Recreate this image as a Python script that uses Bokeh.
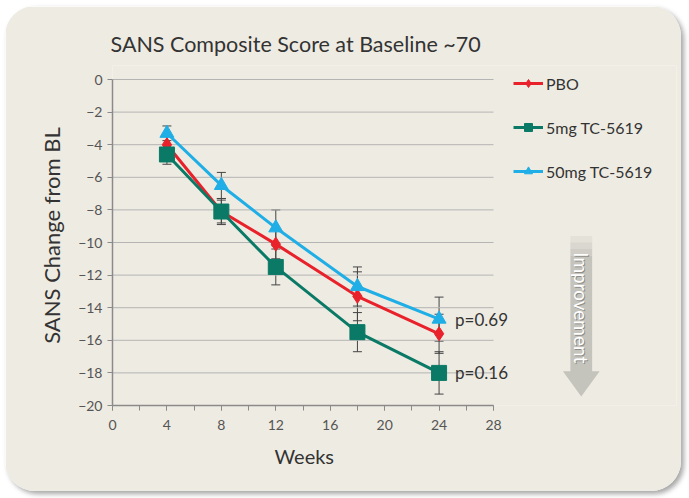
from bokeh.plotting import figure
from bokeh.models import (ColumnDataSource, Whisker, TeeHead, Legend, LegendItem,
                          Label, PolyAnnotation, FixedTicker, Range1d, Title)
from bokeh.embed import file_html
from bokeh.resources import INLINE

weeks = [4, 8, 12, 18, 24]
pbo = [-4.0, -8.1, -10.1, -13.3, -15.6]
mg5 = [-4.6, -8.1, -11.5, -15.5, -18.0]
mg50 = [-3.3, -6.5, -9.1, -12.7, -14.7]
pbo_se = [0.5, 0.7, 0.9, 1.5, 1.2]
mg5_se = [0.6, 0.8, 1.1, 1.2, 1.3]
mg50_se = [0.45, 0.8, 1.1, 1.2, 1.35]
names = ["PBO", "5mg TC-5619", "50mg TC-5619"]
colors = ["#E8212B", "#0A7A66", "#1FAEE5"]
pvals = ["p=0.69", "p=0.16"]
x_ticks = [0, 4, 8, 12, 16, 20, 24, 28]
y_ticks = list(range(-20, 1, 2))

FONT = "Lato"
BG = "#EEEBE2"

W, H = 676, 485
BL, BR, BT, BB = 107, 5, 59, 86
frame_w = W - BL - BR
frame_h = H - BT - BB
x_end = 28 * frame_w / 381.0       # axis 0..28 spans 381 px; rest holds legend/arrow
y_end = 20 * frame_h / 326.0 - 20  # axis -20..0 spans 326 px; a little room above

p = figure(width=W, height=H, output_backend="svg", toolbar_location=None,
           x_range=Range1d(0, x_end), y_range=Range1d(-20, y_end),
           min_border_left=BL, min_border_right=BR, min_border_top=BT, min_border_bottom=BB)
p.background_fill_color = BG
p.border_fill_color = BG
p.outline_line_color = None
p.styles = {"border-radius": "30px", "overflow": "hidden", "margin": "6px 0 0 5px",
            "box-shadow": "3px 3px 5px rgba(0,0,0,0.35)"}

p.title.text = "SANS Composite Score at Baseline ~70"
p.title.align = "left"
p.title.offset = -2
p.title.text_font = FONT
p.title.text_font_size = "21.5px"
p.title.text_font_style = "normal"
p.title.text_color = "#333333"
p.title.standoff = 18

p.xaxis.ticker = FixedTicker(ticks=x_ticks, minor_ticks=list(range(0, 29, 2)))
p.xaxis.bounds = (0, 28)
p.yaxis.ticker = FixedTicker(ticks=y_ticks)
p.yaxis.bounds = (-20, 0)
for ax in (p.xaxis[0], p.yaxis[0]):
    ax.axis_line_color = "#8A8A8A"
    ax.axis_line_width = 1.5
    ax.major_tick_line_color = "#8A8A8A"
    ax.minor_tick_line_color = "#8A8A8A"
    ax.major_tick_in = 0
    ax.major_tick_out = 5
    ax.minor_tick_in = 0
    ax.minor_tick_out = 5
    ax.major_label_text_font = FONT
    ax.major_label_text_font_size = "14px"
    ax.major_label_text_color = "#555555"
    ax.axis_label_text_font = FONT
    ax.axis_label_text_font_style = "normal"
    ax.axis_label_text_color = "#333333"
p.yaxis.minor_tick_line_color = None
p.yaxis.axis_label = "SANS Change from BL"
p.yaxis.axis_label_text_font_size = "22px"
p.yaxis.axis_label_standoff = 10
p.yaxis.major_label_standoff = 5
p.xaxis.major_label_standoff = 9

# x-axis label centred under the 0..28 axis (the frame extends further right)
p.add_layout(Title(text="Weeks", align="left", offset=162, standoff=18,
                   text_font=FONT, text_font_size="20px", text_font_style="normal",
                   text_color="#333333"), "below")

p.xgrid.grid_line_color = None
p.ygrid.grid_line_color = None
gsrc = ColumnDataSource(dict(x0=[0] * len(y_ticks), x1=[28] * len(y_ticks),
                             y=y_ticks))
p.segment(x0="x0", x1="x1", y0="y", y1="y", source=gsrc,
          line_color="#B4B4B4", line_width=1)

series = [pbo, mg5, mg50]
ses = [pbo_se, mg5_se, mg50_se]
markers = ["diamond", "square", "triangle"]
msizes = [14, 15, 14]
items = []
for vals, se in zip(series, ses):
    src = ColumnDataSource(dict(x=weeks, y=vals,
                                lo=[v - s for v, s in zip(vals, se)],
                                hi=[v + s for v, s in zip(vals, se)]))
    w = Whisker(source=src, base="x", upper="hi", lower="lo",
                line_color="#444444", line_width=1,
                upper_head=TeeHead(size=9, line_color="#444444", line_width=1),
                lower_head=TeeHead(size=9, line_color="#444444", line_width=1))
    p.add_layout(w)
for vals, col, mk, ms, nm in zip(series, colors, markers, msizes, names):
    src = ColumnDataSource(dict(x=weeks, y=vals))
    r1 = p.line("x", "y", source=src, line_color=col, line_width=3)
    r2 = p.scatter("x", "y", source=src, marker=mk, size=ms, fill_color=col,
                   line_color=col)
    items.append(LegendItem(label=nm, renderers=[r1, r2]))

legend = Legend(items=items, location=(401, 224), orientation="vertical",
                background_fill_alpha=0, border_line_color=None,
                label_text_font=FONT, label_text_font_size="16px",
                label_text_color="#333333", glyph_width=30, glyph_height=20,
                spacing=24, padding=0, margin=0, label_standoff=3)
p.add_layout(legend, "center")

for txt, yv in zip(pvals, [mg50[-1], mg5[-1]]):
    p.add_layout(Label(x=24, y=yv, x_offset=16, text=txt, text_font=FONT,
                       text_font_size="17px", text_color="#333333",
                       text_baseline="middle"))

# "Improvement" arrow (decoration)
ax0, ax1 = 33.65, 35.25
hx0, hx1 = 33.1, 35.8
yh, yb = -17.9, -19.45
fade = [(-9.6, 0.25), (-10.0, 0.5), (-10.4, 0.75)]
for y0, a in fade:
    p.add_layout(PolyAnnotation(xs=[ax0, ax1, ax1, ax0], ys=[y0, y0, y0 - 0.4, y0 - 0.4],
                                fill_color="#C4C3BC", fill_alpha=a, line_color=None))
arrow = PolyAnnotation(xs=[ax0, ax1, ax1, hx1, (ax0 + ax1) / 2, hx0, ax0],
                       ys=[-10.8, -10.8, yh, yh, yb, yh, yh],
                       fill_color="#C4C3BC", fill_alpha=1, line_color=None)
p.add_layout(arrow)
mid = (ax0 + ax1) / 2
p.add_layout(Label(x=mid, y=-14.0, x_offset=1, y_offset=-1, text="Improvement",
                   angle=-1.5708, text_font=FONT, text_font_size="19px",
                   text_color="#8E8D88", text_align="center", text_baseline="middle"))
p.add_layout(Label(x=mid, y=-14.0, text="Improvement", angle=-1.5708,
                   text_font=FONT, text_font_size="19px", text_color="white",
                   text_align="center", text_baseline="middle"))

open("out.html", "w").write(file_html(p, INLINE))
